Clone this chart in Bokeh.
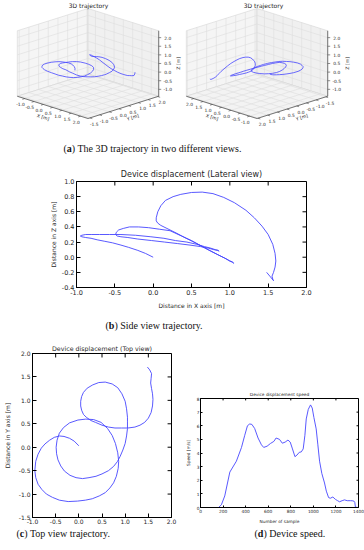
import numpy as np
from bokeh.plotting import figure
from bokeh.layouts import column, row
from bokeh.models import Range1d, FixedTicker, PrintfTickFormatter
from bokeh.core.properties import value
from bokeh.embed import file_html
from bokeh.resources import INLINE

MPL_FONT = "DejaVu Sans"
CAP_FONT = "Liberation Serif"
BLUE = "#4646ff"
TXT = "#262626"

# ---------------- data ----------------
traj_x = [0.00, -0.10, -0.20, -0.32, -0.42, -0.53, -0.63, -0.73, -0.81, -0.88, -0.93, -0.95,
          -0.93, -0.88, -0.80, -0.70, -0.57, -0.42, -0.23, -0.03, 0.14, 0.29, 0.44, 0.57, 0.67,
          0.75, 0.81, 0.85, 0.86,
          0.84, 0.79, 0.72, 0.62, 0.48, 0.32, 0.15, -0.02, -0.20, -0.33, -0.42, -0.47, -0.49,
          -0.48, -0.45, -0.39, -0.31, -0.19, -0.06, 0.08, 0.22, 0.37, 0.50, 0.64, 0.75, 0.83,
          0.89, 0.95, 1.00, 1.03, 1.05, 1.05,
          1.05, 1.03, 1.00, 0.93, 0.84, 0.72, 0.57, 0.43, 0.30, 0.18, 0.10, 0.06, 0.04, 0.04,
          0.06, 0.10, 0.16, 0.26, 0.36, 0.50, 0.64, 0.78, 0.92, 1.06, 1.21, 1.32, 1.42, 1.50,
          1.56, 1.59, 1.60, 1.59, 1.57, 1.55, 1.56, 1.57, 1.53, 1.48]
traj_y = [0.03, 0.13, 0.19, 0.23, 0.24, 0.21, 0.15, 0.07, -0.02, -0.15, -0.30, -0.50,
          -0.65, -0.79, -0.90, -1.00, -1.07, -1.13, -1.16, -1.15, -1.13, -1.10, -1.04, -0.97, -0.87,
          -0.76, -0.62, -0.45, -0.30,
          -0.12, 0.08, 0.25, 0.40, 0.53, 0.59, 0.60, 0.58, 0.52, 0.42, 0.30, 0.15, 0.00,
          -0.14, -0.27, -0.40, -0.51, -0.60, -0.65, -0.67, -0.65, -0.62, -0.57, -0.50, -0.41, -0.31,
          -0.20, -0.06, 0.08, 0.24, 0.40, 0.54,
          0.64, 0.82, 0.98, 1.14, 1.27, 1.35, 1.39, 1.38, 1.33, 1.26, 1.17, 1.08, 0.98, 0.88,
          0.79, 0.70, 0.64, 0.57, 0.53, 0.47, 0.43, 0.41, 0.41, 0.41, 0.43, 0.47, 0.53, 0.62,
          0.74, 0.88, 1.02, 1.14, 1.25, 1.37, 1.47, 1.57, 1.65, 1.71]
traj_z = [0.00, 0.05, 0.09, 0.13, 0.16, 0.19, 0.21, 0.23, 0.25, 0.26, 0.27, 0.28,
          0.29, 0.30, 0.30, 0.30, 0.30, 0.30, 0.29, 0.27, 0.25, 0.22, 0.20, 0.17, 0.14,
          0.12, 0.10, 0.09, 0.08,
          0.09, 0.10, 0.12, 0.14, 0.16, 0.18, 0.20, 0.22, 0.24, 0.26, 0.27, 0.28, 0.30,
          0.33, 0.36, 0.38, 0.40, 0.40, 0.39, 0.37, 0.35, 0.28, 0.22, 0.14, 0.08, 0.04,
          0.01, -0.02, -0.05, -0.065, -0.075, -0.08,
          -0.08, -0.06, -0.05, -0.01, 0.035, 0.10, 0.18, 0.25, 0.32, 0.38, 0.42, 0.45, 0.48, 0.52,
          0.60, 0.68, 0.75, 0.80, 0.83, 0.855, 0.86, 0.84, 0.79, 0.72, 0.62, 0.52, 0.41, 0.30,
          0.17, 0.05, -0.05, -0.13, -0.20, -0.25, -0.29, -0.31, -0.26, -0.20]

sample_no = [0, 160, 185, 215, 260, 318, 363, 392, 416, 436, 455, 480, 510, 540, 560, 590,
             620, 650, 670, 700, 725, 750, 775, 795, 815, 837, 855, 875, 893, 910, 925, 937,
             955, 975, 990, 1005, 1025, 1040, 1055, 1075, 1099, 1115, 1135, 1150, 1173, 1195,
             1215, 1232, 1255, 1276, 1300, 1330, 1350, 1362, 1367, 1373, 1400]
speed_ms = [0, 0, 0.2, 0.85, 2.6, 3.4, 4.4, 5.3, 6.0, 6.13, 6.1, 5.8, 5.1, 4.6, 4.41, 4.5,
            4.7, 4.85, 5.1, 5.0, 4.72, 4.8, 4.95, 4.8, 4.3, 3.73, 3.85, 4.05, 4.08, 4.3, 5.3, 6.5,
            7.2, 7.53, 7.3, 6.6, 5.77, 4.6, 3.4, 2.5, 1.8, 1.2, 0.73, 0.68, 0.77, 0.6,
            0.5, 0.42, 0.5, 0.56, 0.5, 0.5, 0.49, 0.45, 0.38, 0.02, 0.0]

x_ticks = [-1.0, -0.5, 0.0, 0.5, 1.0, 1.5, 2.0]
y_ticks = [-1.5, -1.0, -0.5, 0.0, 0.5, 1.0, 1.5, 2.0]
z_ticks = [-1.0, -0.5, 0.0, 0.5, 1.0, 1.5, 2.0]
side_z_ticks = [-0.4, -0.2, 0.0, 0.2, 0.4, 0.6, 0.8, 1.0]
speed_ticks = [0, 1, 2, 3, 4, 5, 6, 7, 8]
sample_ticks = [0, 200, 400, 600, 800, 1000, 1200, 1400]

box_x = (-1.4, 2.4)
box_y = (-1.6, 2.05)
box_z = (-1.4, 2.4)

captions = [("a", "The 3D trajectory in two different views."),
            ("b", "Side view trajectory."),
            ("c", "Top view trajectory."),
            ("d", "Device speed.")]


def bare_fig(W, H):
    p = figure(width=W, height=H, x_range=Range1d(0, W), y_range=Range1d(H, 0),
               x_axis_type=None, y_axis_type=None, output_backend="svg",
               toolbar_location=None, min_border=0, title=None, frame_align=False)
    p.outline_line_color = None
    return p


# ---------------- 3D panels (own orthographic projection) ----------------
def panel3d(az_deg, cx, title_x, W=182, H=140):
    el = np.radians(30.0)
    az = np.radians(az_deg)
    cy, sx, sy, za = 63.0, 50.0, 31.5, 1.2
    xc, yc, zc = [(a + b) / 2 for a, b in (box_x, box_y, box_z)]
    hx, hy, hz = [(b - a) / 2 for a, b in (box_x, box_y, box_z)]

    def proj(x, y, z):
        px = (np.asarray(x, float) - xc) / hx
        py = (np.asarray(y, float) - yc) / hy
        pz = (np.asarray(z, float) - zc) / hz
        X = cx + sx * (-np.sin(az) * px + np.cos(az) * py)
        Yup = sy * (-np.sin(el) * (np.cos(az) * px + np.sin(az) * py) + np.cos(el) * za * pz)
        return X, cy - Yup

    def pt(p3):
        X, Y = proj([p3[0]], [p3[1]], [p3[2]])
        return np.array([X[0], Y[0]])

    p = bare_fig(W, H)

    x0, x1 = box_x
    y0, y1 = box_y
    z0, z1 = box_z
    xb = x0 if np.cos(az) > 0 else x1
    xf = x1 if xb == x0 else x0
    yb = y1 if np.sin(az) < 0 else y0
    yf = y0 if yb == y1 else y1

    panes = [([xb] * 4, [y0, y1, y1, y0], [z0, z0, z1, z1]),
             ([x0, x1, x1, x0], [yb] * 4, [z0, z0, z1, z1]),
             ([x0, x1, x1, x0], [y0, y0, y1, y1], [z0] * 4)]
    for (a, b, c), col in zip(panes, ["#f5f5f5", "#f0f0f0", "#f3f3f3"]):
        X, Y = proj(a, b, c)
        p.patch(list(X), list(Y), fill_color=col, line_color="#cfcfcf", line_width=0.5)

    gx, gy = [], []

    def seg(a, b):
        A, B = pt(a), pt(b)
        gx.append([A[0], B[0]])
        gy.append([A[1], B[1]])

    for t in y_ticks:
        seg((xb, t, z0), (xb, t, z1))
        seg((x0, t, z0), (x1, t, z0))
    for t in z_ticks:
        seg((xb, y0, t), (xb, y1, t))
        seg((x0, yb, t), (x1, yb, t))
    for t in x_ticks:
        seg((t, yb, z0), (t, yb, z1))
        seg((t, y0, z0), (t, y1, z0))
    p.multi_line(gx, gy, line_color="#dedede", line_width=0.6)

    X, Y = proj(traj_x, traj_y, traj_z)
    p.line(list(X), list(Y), line_color=BLUE, line_width=0.8)

    sgn = lambda v: 1.0 if v > 0 else -1.0
    axes = [
        (x_ticks, lambda t: (t, yf, z0), (0, sgn(yf - yc), 0), (x0, yf, z0), (x1, yf, z0), "X [m]", False),
        (y_ticks, lambda t: (xf, t, z0), (sgn(xf - xc), 0, 0), (xf, y0, z0), (xf, y1, z0), "Y [m]", False),
        (z_ticks, lambda t: (xf, yb, t), (sgn(xf - xc), sgn(yb - yc), 0), (xf, yb, z0), (xf, yb, z1), "Z [m]", True),
    ]
    lx, ly, tx, ty, lab_t = [], [], [], [], []
    for ticks, f, out, e0, e1, name, vertical in axes:
        A, B = pt(e0), pt(e1)
        p.line([A[0], B[0]], [A[1], B[1]], line_color="#444444", line_width=0.7)
        o3 = f(ticks[0])
        base = pt(o3)
        d = pt((o3[0] + out[0] * 0.3, o3[1] + out[1] * 0.3, o3[2] + out[2] * 0.3)) - base
        d = d / np.hypot(*d)
        if vertical:
            toff, aoff = d * 9, d * 20
        else:
            toff = d * 4.5 + np.array([0, 4.5])
            aoff = d * 10 + np.array([0, 7.0])
        for t in ticks:
            q = pt(f(t))
            lx.append([q[0], q[0] + d[0] * 2.5])
            ly.append([q[1], q[1] + d[1] * 2.5])
            tx.append(q[0] + toff[0])
            ty.append(q[1] + toff[1])
            lab_t.append(f"{t:.1f}")
        mid = (A + B) / 2 + aoff
        e = B - A
        if e[0] < 0:
            e = -e
        ang = np.pi / 2 if vertical else -np.arctan2(e[1], e[0])
        p.text([mid[0]], [mid[1]], text=[name], angle=ang, text_font=value(MPL_FONT),
               text_font_size="4.6px", text_color=TXT, text_align="center",
               text_baseline="middle")
    p.multi_line(lx, ly, line_color="#444444", line_width=0.6)
    p.text(tx, ty, text=lab_t, text_font=value(MPL_FONT), text_font_size="4.4px",
           text_color=TXT, text_align="center", text_baseline="middle")
    p.text([title_x], [1.5], text=["3D trajectory"], text_font=value(MPL_FONT),
           text_font_size="6px", text_color=TXT, text_align="center", text_baseline="top")
    return p


# ---------------- 2D matplotlib-like panels ----------------
def mpl_panel(W, H, xr, yr, xt, yt, xfmt, yfmt, title, xlabel, ylabel, borders,
              tick_fs, lab_fs, title_fs, tick_len, lstand, astand, tstand):
    p = figure(width=W, height=H, x_range=Range1d(*xr), y_range=Range1d(*yr),
               output_backend="svg", toolbar_location=None, frame_align=False,
               min_border_left=borders[0], min_border_right=borders[1],
               min_border_top=borders[2], min_border_bottom=borders[3],
               x_axis_label=xlabel, y_axis_label=ylabel)
    p.xgrid.visible = False
    p.ygrid.visible = False
    p.outline_line_color = "black"
    p.outline_line_width = 1
    p.xaxis.ticker = FixedTicker(ticks=xt)
    p.yaxis.ticker = FixedTicker(ticks=yt)
    p.xaxis.formatter = PrintfTickFormatter(format=xfmt)
    p.yaxis.formatter = PrintfTickFormatter(format=yfmt)
    for ax in (p.xaxis, p.yaxis):
        ax.major_tick_in = tick_len
        ax.major_tick_out = 0
        ax.minor_tick_line_color = None
        ax.axis_line_color = "black"
        ax.major_label_text_font = MPL_FONT
        ax.major_label_text_font_size = tick_fs
        ax.major_label_text_color = TXT
        ax.major_label_standoff = lstand
        ax.axis_label_text_font = MPL_FONT
        ax.axis_label_text_font_size = lab_fs
        ax.axis_label_text_font_style = "normal"
        ax.axis_label_text_color = TXT
        ax.axis_label_standoff = astand
    # matplotlib-classic inward ticks on the top and right frame edges
    fw = W - borders[0] - borders[1]
    fh = H - borders[2] - borders[3]
    dy = tick_len * (yr[1] - yr[0]) / fh
    dx = tick_len * (xr[1] - xr[0]) / fw
    p.segment(x0=xt, y0=[yr[1]] * len(xt), x1=xt, y1=[yr[1] - dy] * len(xt),
              line_color="black", line_width=1)
    p.segment(x0=[xr[1]] * len(yt), y0=yt, x1=[xr[1] - dx] * len(yt), y1=yt,
              line_color="black", line_width=1)
    p.title.text = title
    p.title.align = "center"
    p.title.text_font = MPL_FONT
    p.title.text_font_size = title_fs
    p.title.text_font_style = "normal"
    p.title.text_color = TXT
    p.title.standoff = tstand
    return p


def caption(W, H, x0, letter, rest, bold_w):
    p = bare_fig(W, H)
    fs = 10.0
    yc = H / 2
    common = dict(text_font=value(CAP_FONT), text_font_size="10px", text_color="#111111",
                  text_baseline="middle", text_align="left")
    p.text([x0], [yc], text=["("], **common)
    p.text([x0 + 0.333 * fs], [yc], text=[letter], text_font_style="bold", **common)
    p.text([x0 + (0.333 + bold_w) * fs], [yc], text=[")" + " " + rest], **common)
    return p


bold_w = {"a": 0.5, "b": 0.556, "c": 0.444, "d": 0.556}

f3d1 = panel3d(-45.0, cx=87.5, title_x=88.0)
f3d2 = panel3d(135.0, cx=74.5, title_x=81.0)

capA = caption(364, 16, 63, captions[0][0], captions[0][1], bold_w["a"])

fb = mpl_panel(364, 160, (-1, 2), (-0.4, 1.0), x_ticks, side_z_ticks, "%.1f", "%.1f",
               "Device displacement (Lateral view)", "Distance in X axis [m]",
               "Distance in Z axis [m]", (76, 58, 25, 29), "6.5px", "6px", "8px", 4, 2, 4, 5)
fb.yaxis.axis_label_standoff = 2
fb.line(traj_x, traj_z, line_color=BLUE, line_width=0.9)

capB = caption(364, 18, 105, captions[1][0], captions[1][1], bold_w["b"])

fc = mpl_panel(182, 192, (-1, 2), (-1.5, 2.0), x_ticks, y_ticks, "%.1f", "%.1f",
               "Device displacement (Top view)", "", "Distance in Y axis [m]",
               (29, 11, 19, 8), "6px", "6px", "6.3px", 4, 2, 5, 4)
fc.xaxis.major_label_standoff = 1
fc.line(traj_x, traj_y, line_color=BLUE, line_width=0.9)

fd = mpl_panel(182, 192, (0, 1400), (0, 8), sample_ticks, speed_ticks, "%d", "%d",
               "Device displacement speed", "Number of sample", "Speed [m/s]",
               (17, 6, 64, 14), "4.3px", "4.3px", "4.3px", 2, 1, 3, 3)
fd.line(sample_no, speed_ms, line_color=BLUE, line_width=0.9)

capC = caption(182, 14, 16, captions[2][0], captions[2][1], bold_w["c"])
capD = caption(182, 14, 72, captions[3][0], captions[3][1], bold_w["d"])

layout = column(
    row(f3d1, f3d2, spacing=0),
    capA,
    fb,
    capB,
    row(column(fc, capC, spacing=0), column(fd, capD, spacing=0), spacing=0),
    spacing=0,
)

open("out.html", "w").write(file_html(layout, INLINE))
